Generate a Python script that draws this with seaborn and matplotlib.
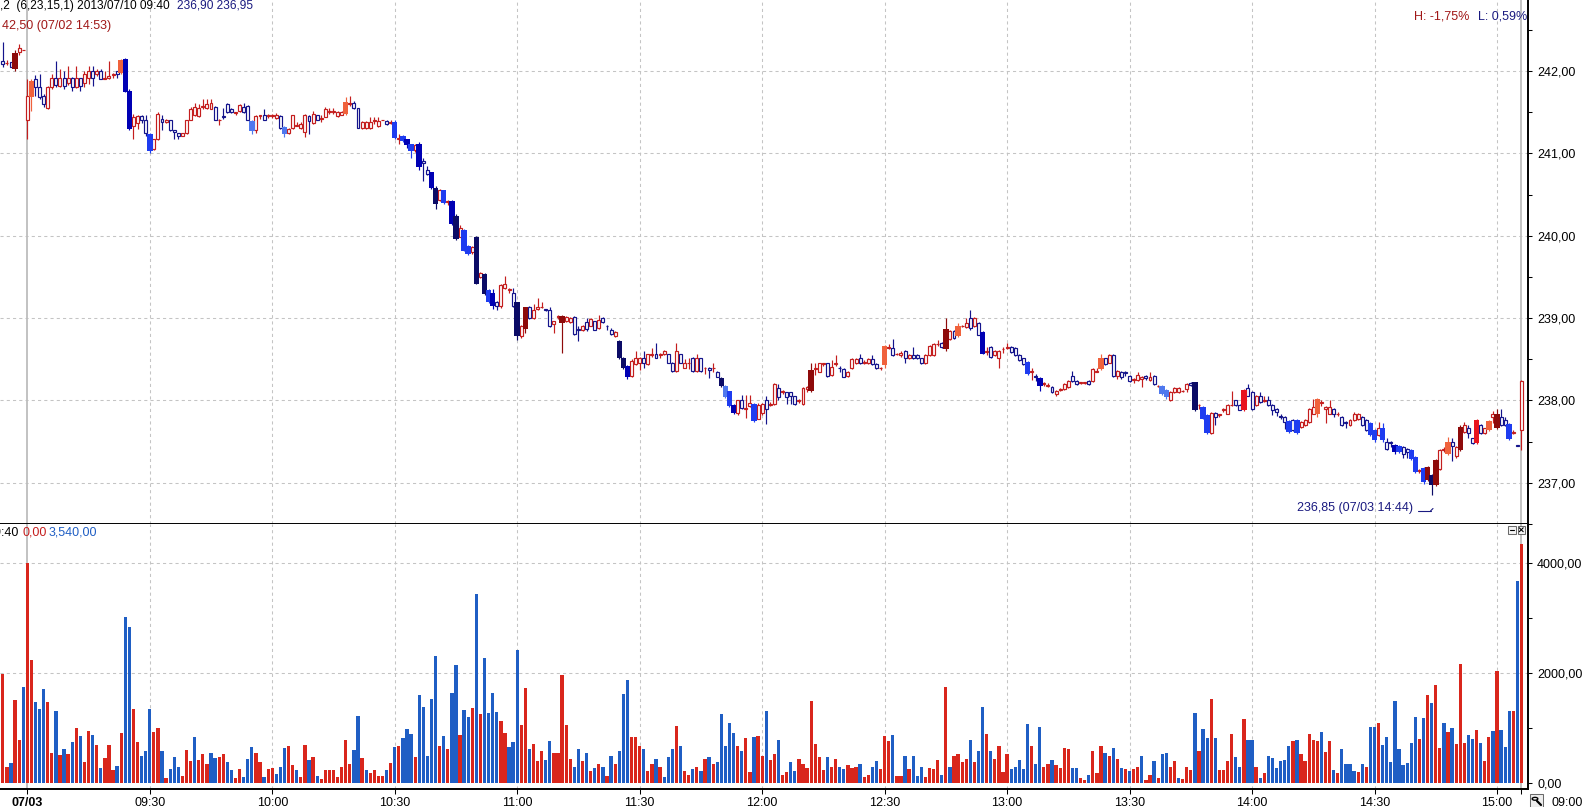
import numpy as np
import pandas as pd
import matplotlib
matplotlib.use('Agg')
import matplotlib.pyplot as plt
from matplotlib.patches import Rectangle, Circle
from matplotlib.lines import Line2D
import seaborn as sns

# one-minute bars, index 0 = 07/03 09:00, negative = last bars of 07/02
first_idx = -6

opens = [
    242.12, 242.10, 242.11, 242.02, 242.23, 242.25, 241.40, 241.68, 241.90, 241.80,
    241.70, 241.55, 241.80, 241.92, 241.82, 241.92, 241.85, 241.92, 241.80, 241.91,
    241.86, 241.92, 242.00, 241.96, 242.00, 241.90, 241.92, 241.95, 242.00, 241.98,
    242.14, 241.76, 241.33, 241.37, 241.45, 241.41, 241.23, 241.05, 241.17, 241.42,
    241.38, 241.40, 241.28, 241.25, 241.21, 241.25, 241.40, 241.46, 241.45, 241.56,
    241.55, 241.54, 241.56, 241.40, 241.45, 241.60, 241.54, 241.49, 241.52, 241.56,
    241.58, 241.39, 241.28, 241.45, 241.46, 241.45, 241.45, 241.43, 241.45, 241.32,
    241.25, 241.31, 241.33, 241.31, 241.26, 241.45, 241.37, 241.46, 241.42, 241.44,
    241.50, 241.50, 241.45, 241.47, 241.48, 241.60, 241.61, 241.55, 241.31, 241.31,
    241.31, 241.39, 241.33, 241.40, 241.39, 241.37, 241.38, 241.18, 241.21, 241.17,
    241.11, 241.04, 241.12, 240.91, 240.80, 240.77, 240.58, 240.43, 240.55, 240.41,
    240.42, 240.24, 239.99, 240.07, 239.88, 239.80, 239.99, 239.50, 239.54, 239.34,
    239.31, 239.20, 239.15, 239.36, 239.34, 239.31, 239.19, 238.78, 238.87, 239.14,
    239.00, 239.11, 239.13, 239.11, 239.10, 238.93, 239.01, 238.94, 238.96, 238.95,
    239.01, 238.87, 238.85, 238.95, 238.91, 238.96, 238.88, 239.00, 238.91, 238.86,
    238.78, 238.72, 238.52, 238.42, 238.30, 238.44, 238.46, 238.52, 238.44, 238.55,
    238.56, 238.55, 238.56, 238.56, 238.46, 238.36, 238.56, 238.40, 238.45, 238.52,
    238.36, 238.51, 238.39, 238.40, 238.39, 238.34, 238.27, 238.18, 238.11, 237.95,
    237.85, 238.00, 237.90, 237.93, 237.96, 237.78, 237.85, 238.00, 237.95, 237.96,
    238.15, 238.10, 238.10, 238.10, 238.05, 237.99, 237.96, 238.14, 238.12, 238.38,
    238.35, 238.44, 238.45, 238.31, 238.44, 238.40, 238.38, 238.30, 238.39, 238.45,
    238.51, 238.46, 238.45, 238.50, 238.44, 238.39, 238.43, 238.64, 238.64, 238.56,
    238.55, 238.60, 238.51, 238.55, 238.55, 238.51, 238.45, 238.55, 238.55, 238.68,
    238.70, 238.62, 238.75, 238.84, 238.78, 238.90, 238.89, 239.00, 238.90, 238.94,
    238.83, 238.59, 238.65, 238.55, 238.51, 238.62, 238.64, 238.65, 238.64, 238.55,
    238.51, 238.47, 238.35, 238.30, 238.27, 238.20, 238.18, 238.16, 238.08, 238.13,
    238.14, 238.16, 238.30, 238.24, 238.21, 238.21, 238.24, 238.24, 238.35, 238.38,
    238.51, 238.46, 238.55, 238.30, 238.35, 238.34, 238.30, 238.25, 238.25, 238.26,
    238.30, 238.25, 238.30, 238.17, 238.18, 238.13, 238.00, 238.10, 238.10, 238.11,
    238.14, 238.21, 238.22, 237.94, 237.92, 237.82, 237.60, 237.85, 237.82, 237.89,
    237.84, 237.94, 238.00, 237.95, 237.88, 238.15, 238.10, 237.94, 238.05, 237.99,
    238.00, 237.95, 237.90, 237.81, 237.80, 237.75, 237.76, 237.76, 237.68, 237.70,
    237.74, 237.84, 237.84, 237.97, 237.90, 237.84, 237.90, 237.83, 237.80, 237.74,
    237.70, 237.76, 237.77, 237.80, 237.76, 237.73, 237.64, 237.58, 237.66, 237.50,
    237.49, 237.46, 237.45, 237.44, 237.41, 237.40, 237.31, 237.14, 237.18, 237.03,
    237.10, 236.97, 237.17, 237.40, 237.35, 237.50, 237.33, 237.40, 237.62, 237.66,
    237.54, 237.48, 237.70, 237.60, 237.64, 237.80, 237.66, 237.80, 237.76, 237.72,
    237.61, 237.46, 237.64,
]
highs = [
    242.35, 242.13, 242.11, 242.25, 242.33, 242.25, 241.90, 241.90, 241.95, 241.96,
    241.72, 241.82, 241.96, 242.12, 242.02, 242.00, 242.06, 241.93, 242.06, 241.92,
    242.00, 242.06, 242.06, 242.03, 242.02, 242.00, 242.12, 241.98, 242.00, 242.14,
    242.16, 241.78, 241.48, 241.47, 241.47, 241.47, 241.25, 241.18, 241.50, 241.47,
    241.42, 241.41, 241.28, 241.25, 241.25, 241.41, 241.56, 241.61, 241.60, 241.66,
    241.66, 241.66, 241.57, 241.42, 241.55, 241.61, 241.55, 241.50, 241.60, 241.61,
    241.59, 241.40, 241.46, 241.46, 241.54, 241.48, 241.48, 241.49, 241.46, 241.33,
    241.31, 241.47, 241.38, 241.38, 241.48, 241.46, 241.52, 241.47, 241.46, 241.56,
    241.55, 241.55, 241.52, 241.51, 241.68, 241.70, 241.63, 241.55, 241.39, 241.39,
    241.44, 241.44, 241.44, 241.41, 241.40, 241.41, 241.40, 241.24, 241.22, 241.18,
    241.12, 241.12, 241.14, 240.94, 240.85, 240.78, 240.60, 240.57, 240.56, 240.44,
    240.44, 240.26, 240.13, 240.08, 239.89, 239.88, 240.00, 239.56, 239.55, 239.35,
    239.35, 239.21, 239.42, 239.51, 239.36, 239.36, 239.20, 238.92, 239.14, 239.15,
    239.17, 239.24, 239.20, 239.11, 239.13, 238.97, 239.04, 239.04, 239.02, 239.01,
    239.02, 238.90, 238.92, 239.00, 239.00, 238.97, 239.04, 239.01, 238.92, 238.88,
    238.84, 238.73, 238.53, 238.43, 238.50, 238.60, 238.53, 238.60, 238.57, 238.64,
    238.70, 238.58, 238.61, 238.57, 238.47, 238.70, 238.57, 238.50, 238.52, 238.53,
    238.56, 238.52, 238.41, 238.41, 238.45, 238.36, 238.28, 238.19, 238.12, 237.96,
    238.01, 238.07, 238.07, 238.07, 237.97, 237.97, 237.97, 238.06, 237.98, 238.21,
    238.20, 238.13, 238.10, 238.10, 238.05, 238.02, 238.16, 238.17, 238.45, 238.45,
    238.46, 238.46, 238.46, 238.49, 238.55, 238.42, 238.39, 238.36, 238.51, 238.51,
    238.56, 238.49, 238.51, 238.55, 238.45, 238.41, 238.67, 238.69, 238.75, 238.58,
    238.60, 238.61, 238.56, 238.65, 238.56, 238.52, 238.56, 238.67, 238.70, 238.74,
    238.71, 239.00, 238.85, 238.85, 238.94, 238.92, 239.00, 239.10, 239.01, 238.95,
    238.84, 238.65, 238.66, 238.61, 238.61, 238.65, 238.70, 238.66, 238.65, 238.56,
    238.52, 238.48, 238.40, 238.32, 238.28, 238.23, 238.21, 238.17, 238.13, 238.15,
    238.21, 238.25, 238.36, 238.25, 238.23, 238.23, 238.25, 238.39, 238.40, 238.56,
    238.52, 238.56, 238.56, 238.37, 238.36, 238.36, 238.31, 238.27, 238.35, 238.30,
    238.31, 238.35, 238.31, 238.19, 238.19, 238.14, 238.12, 238.16, 238.16, 238.13,
    238.21, 238.22, 238.23, 237.96, 237.93, 237.83, 237.86, 237.86, 237.84, 237.91,
    237.96, 238.12, 238.01, 237.96, 238.14, 238.20, 238.11, 238.07, 238.10, 238.06,
    238.06, 237.96, 237.91, 237.83, 237.81, 237.76, 237.77, 237.77, 237.75, 237.77,
    237.91, 238.02, 238.03, 238.01, 237.93, 238.00, 237.91, 237.86, 237.81, 237.75,
    237.77, 237.86, 237.85, 237.81, 237.77, 237.74, 237.65, 237.74, 237.73, 237.54,
    237.51, 237.47, 237.46, 237.45, 237.42, 237.41, 237.32, 237.17, 237.19, 237.20,
    237.11, 237.29, 237.41, 237.44, 237.56, 237.54, 237.45, 237.70, 237.74, 237.70,
    237.55, 237.77, 237.71, 237.67, 237.76, 237.87, 237.90, 237.90, 237.80, 237.73,
    237.64, 237.46, 238.25,
]
lows = [
    242.05, 242.07, 242.05, 242.00, 242.20, 242.25, 241.17, 241.52, 241.70, 241.66,
    241.56, 241.54, 241.78, 241.80, 241.80, 241.78, 241.83, 241.76, 241.79, 241.76,
    241.81, 241.84, 241.82, 241.94, 241.90, 241.90, 241.90, 241.92, 241.92, 241.96,
    241.74, 241.28, 241.17, 241.30, 241.37, 241.21, 241.00, 241.04, 241.16, 241.29,
    241.37, 241.27, 241.17, 241.17, 241.21, 241.24, 241.40, 241.45, 241.44, 241.54,
    241.54, 241.54, 241.40, 241.34, 241.42, 241.49, 241.49, 241.47, 241.50, 241.49,
    241.40, 241.24, 241.25, 241.42, 241.40, 241.43, 241.43, 241.42, 241.30, 241.20,
    241.24, 241.30, 241.33, 241.30, 241.20, 241.24, 241.36, 241.40, 241.38, 241.44,
    241.48, 241.48, 241.44, 241.46, 241.47, 241.58, 241.54, 241.31, 241.30, 241.30,
    241.30, 241.36, 241.32, 241.40, 241.35, 241.36, 241.18, 241.12, 241.14, 241.06,
    240.95, 241.02, 240.80, 240.67, 240.74, 240.57, 240.33, 240.42, 240.39, 240.37,
    240.13, 239.95, 239.98, 239.81, 239.77, 239.78, 239.41, 239.49, 239.28, 239.18,
    239.11, 239.10, 239.12, 239.35, 239.31, 239.14, 238.74, 238.76, 238.82, 238.99,
    238.99, 239.10, 239.12, 239.09, 238.89, 238.82, 238.99, 238.58, 238.95, 238.94,
    238.80, 238.72, 238.84, 238.84, 238.90, 238.85, 238.87, 238.94, 238.86, 238.80,
    238.77, 238.50, 238.38, 238.26, 238.28, 238.43, 238.37, 238.40, 238.43, 238.53,
    238.51, 238.52, 238.55, 238.45, 238.35, 238.35, 238.45, 238.39, 238.38, 238.35,
    238.35, 238.35, 238.32, 238.27, 238.34, 238.28, 238.16, 238.03, 237.92, 237.84,
    237.82, 237.90, 237.79, 237.92, 237.74, 237.77, 237.82, 237.71, 237.93, 237.95,
    238.00, 238.08, 237.96, 237.96, 237.95, 237.97, 237.95, 238.10, 238.10, 238.31,
    238.34, 238.42, 238.29, 238.30, 238.42, 238.34, 238.28, 238.29, 238.38, 238.44,
    238.44, 238.44, 238.44, 238.43, 238.38, 238.37, 238.40, 238.62, 238.54, 238.55,
    238.53, 238.45, 238.50, 238.50, 238.50, 238.44, 238.44, 238.54, 238.54, 238.66,
    238.64, 238.60, 238.74, 238.75, 238.77, 238.89, 238.88, 238.86, 238.89, 238.79,
    238.56, 238.55, 238.52, 238.54, 238.40, 238.58, 238.62, 238.58, 238.54, 238.48,
    238.43, 238.31, 238.25, 238.24, 238.12, 238.18, 238.16, 238.09, 238.06, 238.11,
    238.13, 238.15, 238.23, 238.19, 238.20, 238.20, 238.19, 238.23, 238.34, 238.37,
    238.43, 238.45, 238.28, 238.26, 238.26, 238.30, 238.23, 238.21, 238.24, 238.16,
    238.25, 238.24, 238.19, 238.16, 238.07, 238.02, 237.99, 238.09, 238.09, 238.10,
    238.10, 238.18, 237.87, 237.90, 237.77, 237.59, 237.59, 237.70, 237.80, 237.86,
    237.83, 237.93, 237.93, 237.88, 237.87, 238.05, 237.89, 237.93, 237.97, 237.98,
    237.93, 237.82, 237.81, 237.77, 237.65, 237.61, 237.63, 237.59, 237.67, 237.69,
    237.73, 237.83, 237.80, 237.93, 237.73, 237.83, 237.80, 237.81, 237.69, 237.66,
    237.69, 237.75, 237.76, 237.69, 237.63, 237.57, 237.50, 237.57, 237.50, 237.40,
    237.44, 237.35, 237.36, 237.30, 237.30, 237.28, 237.12, 237.12, 236.99, 237.02,
    236.85, 236.96, 237.16, 237.38, 237.34, 237.27, 237.30, 237.39, 237.61, 237.54,
    237.47, 237.47, 237.59, 237.59, 237.63, 237.73, 237.65, 237.69, 237.69, 237.52,
    237.59, 237.45, 237.40,
]
closes = [
    242.08, 242.10, 242.05, 242.22, 242.28, 242.25, 241.70, 241.88, 241.80, 241.68,
    241.60, 241.80, 241.92, 241.83, 241.92, 241.82, 241.92, 241.80, 241.92, 241.82,
    241.96, 242.00, 241.92, 242.00, 241.90, 241.91, 241.94, 241.96, 241.96, 242.13,
    241.75, 241.30, 241.44, 241.45, 241.40, 241.25, 241.03, 241.17, 241.48, 241.38,
    241.40, 241.29, 241.26, 241.21, 241.25, 241.40, 241.54, 241.56, 241.55, 241.58,
    241.60, 241.61, 241.40, 241.41, 241.44, 241.50, 241.50, 241.50, 241.59, 241.50,
    241.40, 241.27, 241.45, 241.46, 241.41, 241.46, 241.46, 241.46, 241.31, 241.23,
    241.30, 241.46, 241.35, 241.36, 241.46, 241.39, 241.48, 241.41, 241.43, 241.54,
    241.51, 241.51, 241.50, 241.50, 241.62, 241.61, 241.55, 241.31, 241.38, 241.38,
    241.38, 241.40, 241.39, 241.41, 241.36, 241.38, 241.19, 241.19, 241.15, 241.10,
    241.03, 241.10, 240.83, 240.88, 240.75, 240.58, 240.38, 240.55, 240.40, 240.42,
    240.14, 239.96, 240.10, 239.82, 239.78, 239.86, 239.42, 239.55, 239.29, 239.19,
    239.15, 239.15, 239.40, 239.41, 239.35, 239.15, 238.78, 238.90, 239.13, 239.00,
    239.10, 239.14, 239.14, 239.10, 238.90, 238.96, 239.02, 239.02, 239.01, 239.00,
    238.81, 238.86, 238.91, 238.87, 238.99, 238.86, 238.98, 238.95, 238.90, 238.81,
    238.83, 238.52, 238.40, 238.28, 238.48, 238.52, 238.52, 238.46, 238.56, 238.56,
    238.52, 238.56, 238.60, 238.46, 238.36, 238.60, 238.46, 238.46, 238.46, 238.36,
    238.52, 238.36, 238.40, 238.37, 238.40, 238.29, 238.18, 238.04, 237.93, 237.85,
    238.00, 237.91, 237.91, 237.97, 237.75, 237.95, 237.96, 237.90, 237.96, 238.20,
    238.04, 238.12, 238.04, 238.06, 237.96, 238.00, 238.15, 238.16, 238.37, 238.39,
    238.45, 238.45, 238.30, 238.41, 238.45, 238.39, 238.29, 238.35, 238.50, 238.50,
    238.45, 238.47, 238.50, 238.44, 238.39, 238.40, 238.66, 238.65, 238.55, 238.57,
    238.58, 238.51, 238.55, 238.51, 238.51, 238.45, 238.55, 238.66, 238.69, 238.69,
    238.65, 238.87, 238.84, 238.76, 238.91, 238.91, 238.94, 238.88, 239.00, 238.80,
    238.57, 238.60, 238.53, 238.60, 238.60, 238.63, 238.65, 238.59, 238.55, 238.49,
    238.44, 238.32, 238.36, 238.29, 238.17, 238.21, 238.19, 238.10, 238.12, 238.14,
    238.20, 238.24, 238.24, 238.20, 238.22, 238.22, 238.20, 238.38, 238.36, 238.52,
    238.44, 238.55, 238.30, 238.36, 238.29, 238.33, 238.24, 238.26, 238.31, 238.29,
    238.27, 238.29, 238.20, 238.18, 238.08, 238.04, 238.10, 238.15, 238.15, 238.12,
    238.20, 238.19, 237.88, 237.95, 237.78, 237.60, 237.85, 237.80, 237.83, 237.90,
    237.95, 237.95, 237.94, 237.89, 238.13, 238.06, 237.90, 238.06, 237.98, 238.00,
    237.94, 237.88, 237.86, 237.80, 237.74, 237.62, 237.64, 237.60, 237.74, 237.76,
    237.90, 237.92, 238.02, 237.98, 237.92, 237.92, 237.84, 237.84, 237.70, 237.73,
    237.76, 237.84, 237.84, 237.70, 237.64, 237.58, 237.52, 237.66, 237.52, 237.41,
    237.48, 237.38, 237.37, 237.35, 237.37, 237.29, 237.13, 237.15, 237.01, 237.19,
    236.97, 237.28, 237.40, 237.41, 237.50, 237.45, 237.44, 237.68, 237.70, 237.60,
    237.48, 237.76, 237.60, 237.66, 237.75, 237.83, 237.84, 237.70, 237.70, 237.53,
    237.62, 237.45, 238.24,
]

# strong candles drawn filled and wide: bar index -> shade
filled = {
    -3: 'M', 1: 'O', 23: 'O', 24: 'D', 25: 'D', 30: 'B', 55: 'L', 63: 'L',
    78: 'O', 90: 'B', 92: 'B', 93: 'D', 94: 'B', 96: 'D', 99: 'D', 100: 'N',
    102: 'B', 104: 'D', 105: 'N', 107: 'B', 108: 'B', 110: 'N', 112: 'N',
    113: 'B', 114: 'D', 120: 'N', 122: 'M', 131: 'M', 145: 'N', 146: 'N',
    147: 'D', 170: 'N', 171: 'L', 172: 'B', 173: 'D', 178: 'B', 192: 'M',
    210: 'O', 225: 'M', 228: 'O', 234: 'D', 245: 'B', 248: 'D', 263: 'O',
    278: 'L', 279: 'L', 286: 'N', 288: 'B', 289: 'B', 298: 'R', 309: 'B',
    311: 'B', 316: 'O', 329: 'B', 330: 'B', 332: 'B', 335: 'D', 336: 'B',
    339: 'B', 340: 'B', 342: 'B', 343: 'M', 344: 'N', 345: 'M', 348: 'O',
    351: 'M', 355: 'R', 358: 'O', 360: 'M', 363: 'B',
}

volumes = [
    1980, 290, 365, 1515, 790, 1750, 4000, 2240, 1470, 1350,
    1715, 1470, 550, 1315, 515, 625, 535, 750, 1005, 860,
    390, 950, 880, 695, 280, 460, 695, 240, 315, 915,
    3025, 2840, 1350, 750, 495, 590, 1350, 935, 1005, 590,
    95, 260, 480, 300, 135, 605, 405, 840, 425, 535,
    350, 550, 460, 480, 535, 390, 240, 95, 260, 115,
    440, 660, 550, 390, 115, 260, 280, 170, 300, 640,
    680, 335, 240, 115, 695, 425, 480, 135, 80, 240,
    240, 240, 115, 300, 790, 350, 605, 1225, 460, 240,
    190, 240, 135, 135, 240, 370, 660, 680, 825, 990,
    895, 480, 1605, 1390, 495, 1535, 2315, 680, 860, 625,
    1640, 2150, 880, 1335, 1205, 1370, 3440, 1260, 2280, 1280,
    1640, 1295, 1135, 915, 660, 750, 2425, 1065, 1735, 630,
    720, 400, 580, 415, 775, 560, 560, 1970, 1065, 435,
    290, 630, 400, 560, 215, 270, 360, 305, 125, 505,
    360, 595, 1625, 1880, 850, 850, 670, 630, 215, 345,
    435, 305, 110, 470, 630, 1050, 685, 215, 145, 255,
    290, 215, 450, 470, 360, 380, 1265, 670, 1100, 920,
    670, 595, 830, 200, 850, 865, 505, 1320, 415, 540,
    795, 160, 200, 380, 215, 450, 345, 270, 1500, 720,
    470, 235, 470, 290, 450, 305, 255, 325, 270, 290,
    360, 110, 160, 290, 400, 255, 865, 775, 885, 125,
    125, 505, 255, 490, 125, 305, 110, 270, 255, 415,
    145, 1750, 305, 490, 540, 380, 450, 795, 380, 595,
    1390, 905, 580, 435, 670, 200, 525, 255, 290, 415,
    255, 1085, 670, 360, 1030, 290, 345, 415, 325, 270,
    650, 630, 270, 270, 90, 55, 160, 580, 180, 685,
    560, 490, 650, 435, 270, 255, 215, 255, 305, 505,
    55, 145, 400, 90, 525, 560, 305, 400, 90, 70,
    305, 235, 1280, 595, 995, 830, 1535, 815, 235, 235,
    400, 905, 470, 305, 1175, 795, 780, 300, 100, 190,
    490, 460, 280, 410, 420, 670, 770, 780, 530, 410,
    890, 785, 770, 925, 570, 770, 240, 190, 625, 360,
    350, 230, 205, 360, 300, 1020, 1030, 1095, 695, 840,
    385, 1500, 625, 330, 370, 735, 1200, 805, 1185, 1600,
    1455, 1780, 645, 1090, 930, 1005, 710, 2170, 725, 870,
    800, 965, 735, 410, 840, 950, 2050, 965, 660, 1310,
    1310, 3670, 4350,
]
vol_side = (
    "rrbrrbrrbb" "brrbrbrbrb" "rrbrbrrrbr" "bbrrbbbrrb" "rbbbrrrbrr"
    "rbbrrbbrrb" "bbrrbrrbbb" "rrbrrbrbrr" "rrrrrrbbrb" "rrrrbrbrbb"
    "brbbbbbrbr" "bbrbbrbrbb" "bbrrbbbrrb" "rrrbbrrrrr" "bbrbrbrbrb"
    "rbbbrrrbrr" "brbbbrbrrb" "rbrbrbbbbb" "rbrrbrrbrr" "brrbbrrrrr"
    "rrbrrbbrrr" "brrbbrrrbr" "rbrbbbrrrr" "brbrrrrbrb" "brbrrrrbbb"
    "bbrbbrrbrr" "rrbbrrbrrr" "brbrbrbrrb" "rrbrbbrrbr" "rrbrbbrbrr"
    "rrbbrbbrbr" "bbbbbbrbrr" "rrrbrrbrbb" "bbrbrbbrbb" "bbbbbbbrbr"
    "brrbrbrrrb" "brbrrbrbbb" "rbr"
)

time_ticks = [0, 30, 60, 90, 120, 150, 180, 210, 240, 270, 300, 330, 360]
time_labels = ['07/03', '09:30', '10:00', '10:30', '11:00', '11:30', '12:00',
               '12:30', '13:00', '13:30', '14:00', '14:30', '15:00']
last_bar = 366
price_ticks = [237, 238, 239, 240, 241, 242]
price_labels = ['237,00', '238,00', '239,00', '240,00', '241,00', '242,00']
vol_ticks = [0, 2000, 4000]
vol_labels = ['0,00', '2000,00', '4000,00']

shades = {'N': '#0b0b66', 'D': '#0000b4', 'B': '#1e3cf0', 'L': '#4f78ee',
          'M': '#8e0a0a', 'R': '#e8141e', 'O': '#f0623c'}
up_c, down_c = '#c41e1e', '#14148c'
grid_c = '#c4c4c4'
sep_c = '#bdbdbd'
fs = 9

n = len(opens)
assert len(highs) == n and len(lows) == n and len(closes) == n
assert len(volumes) == n and len(vol_side) == n
idx = np.arange(first_idx, first_idx + n)

sns.set_style('white')
plt.rcParams['font.family'] = ['Liberation Sans', 'DejaVu Sans']
plt.rcParams['font.size'] = fs

W, H = 1588, 807
fig = plt.figure(figsize=(W / 100, H / 100), dpi=100)


def fx(px):
    return px / W


def fy(py):
    return 1 - py / H


ax = fig.add_axes([0, fy(524), fx(1528), 524 / H])
axv = fig.add_axes([0, fy(789), fx(1528), (789 - 524) / H])

x0, x1 = -27.3 / 4.0825, (1528 - 27.3) / 4.0825

# volume bars
df = pd.DataFrame({'idx': idx, 'vol': volumes, 'side': list(vol_side)})
sns.barplot(data=df, x='idx', y='vol', hue='side',
            palette={'r': '#d9261c', 'b': '#1f5ec4'}, native_scale=True,
            width=0.8, dodge=False, saturation=1, errorbar=None,
            legend=False, ax=axv, zorder=2, linewidth=0)

# candles
o = np.array(opens)
h = np.array(highs)
l = np.array(lows)
c = np.array(closes)
cols = []
for k in range(n):
    i = idx[k]
    if i in filled:
        cols.append(shades[filled[i]])
    else:
        cols.append(up_c if c[k] >= o[k] else down_c)
cols = np.array(cols)
is_fill = np.array([i in filled for i in idx])

ax.vlines(idx, l, h, colors=cols, lw=0.85, zorder=2)
bot = np.minimum(o, c)
ht = np.abs(c - o)
hol = ~is_fill
ax.bar(idx[hol], ht[hol], bottom=bot[hol], width=0.72, facecolor='white',
       edgecolor=cols[hol], linewidth=0.85, zorder=3)
ax.bar(idx[is_fill], np.maximum(ht[is_fill], 0.03), bottom=bot[is_fill],
       width=1.35, color=cols[is_fill], linewidth=0, zorder=4)

# grids and separators
for a in (ax, axv):
    for t in time_ticks[1:]:
        a.axvline(t, color=grid_c, lw=0.75, ls=(0, (3, 3)), zorder=0.5)
    a.axvline(0, color=sep_c, lw=1.3, zorder=1)
    a.axvline(last_bar, color=sep_c, lw=1.3, zorder=1)
for p in price_ticks:
    ax.axhline(p, color=grid_c, lw=0.75, ls=(0, (3, 3)), zorder=0.5)
for v in vol_ticks[1:]:
    axv.axhline(v, color=grid_c, lw=0.75, ls=(0, (3, 3)), zorder=0.5)

ax.set_xlim(x0, x1)
ax.set_ylim(242 - (524 - 72.7) / 84.3, 242 + 72.7 / 84.3)
axv.set_xlim(x0, x1)
axv.set_ylim(-5.7 / 0.055, (783.3 - 524) / 0.055)

for a in (ax, axv):
    a.set_facecolor('white')
    a.set_xlabel('')
    a.set_ylabel('')
    for s in ('top', 'left'):
        a.spines[s].set_visible(False)
    for s in ('right', 'bottom'):
        a.spines[s].set_visible(True)
        a.spines[s].set_color('black')
        a.spines[s].set_linewidth(1.4)
    a.yaxis.tick_right()
    a.tick_params(axis='y', which='both', direction='out', right=True,
                  left=False, length=3, width=0.75, pad=3.5, labelsize=fs,
                  colors='black')

ax.set_xticks([])
ax.set_yticks(price_ticks)
ax.set_yticklabels(price_labels)
ax.set_yticks([236.5 + k for k in range(7)], minor=True)

axv.set_yticks(vol_ticks)
axv.set_yticklabels(vol_labels)
axv.set_yticks([1000, 3000], minor=True)
axv.set_xticks(time_ticks + [last_bar])
axv.set_xticklabels(time_labels + [''])
axv.tick_params(axis='x', bottom=True, direction='out', length=3.5,
                width=0.75, pad=2, labelsize=fs, colors='black')
axv.get_xticklabels()[0].set_fontweight('bold')


# header texts
def txt(px, py, s, color='black', size=fs, **kw):
    fig.text(fx(px), fy(py), s, color=color, fontsize=size, va='baseline', **kw)


txt(0, 8.5, ',2  (6,23,15,1) 2013/07/10 09:40', size=8.6)
txt(177, 8.5, '236,90 236,95', color='#1a1a80', size=8.6)
txt(1.5, 29.3, '42,50 (07/02 14:53)', color='#a01818')
txt(1414.3, 19.3, 'H: -1,75%', color='#a01818')
txt(1478.3, 19.3, 'L: 0,59%', color='#1a1a80')
txt(1296.7, 511.5, '236,85 (07/03 14:44)', color='#1a1a80')
txt(18.5, 535.5, '09:40', ha='right')
txt(22.7, 535.5, '0,00', color='#c41e1e')
txt(49, 535.5, '3,540,00', color='#1f5ec4')
txt(1552, 805.5, '09:00')

# arrow at the day low
fig.add_artist(Line2D([fx(1418), fx(1430.5)], [fy(511), fy(511)],
                      color='#1a1a80', lw=0.8))
fig.add_artist(Line2D([fx(1430.5), fx(1433)], [fy(511), fy(508.5)],
                      color='#1a1a80', lw=0.8))

# small panel buttons
for bx in (1508, 1517.5):
    fig.add_artist(Rectangle((fx(bx), fy(533.5)), fx(7.5), 7.5 / H,
                             facecolor='#f4f4f4', edgecolor='#6a6a6a', lw=0.75))
fig.add_artist(Line2D([fx(1509.8), fx(1513.7)], [fy(529.7), fy(529.7)],
                      color='black', lw=0.8))
fig.add_artist(Line2D([fx(1519.3), fx(1523.2)], [fy(527.8), fy(531.7)],
                      color='black', lw=0.8))
fig.add_artist(Line2D([fx(1519.3), fx(1523.2)], [fy(531.7), fy(527.8)],
                      color='black', lw=0.8))

# magnifier icon at the bottom right
fig.add_artist(Rectangle((fx(1529.5), fy(806.5)), fx(13.5), 12.5 / H,
                         facecolor='#eeeeee', edgecolor='#6a6a6a', lw=0.75))
fig.add_artist(Circle((fx(1535), fy(798.8)), fx(2.8), facecolor='white',
                      edgecolor='black', lw=1.0,
                      transform=fig.transFigure))
fig.add_artist(Line2D([fx(1537), fx(1541)], [fy(801), fy(805)],
                      color='black', lw=1.6))

fig.savefig('out.png', dpi=100)
